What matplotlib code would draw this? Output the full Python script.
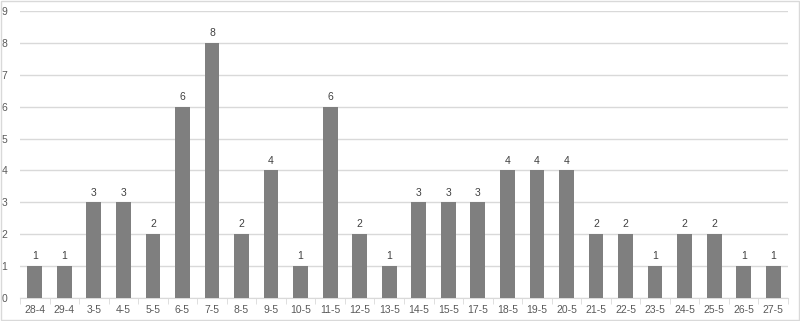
import matplotlib
matplotlib.use("Agg")
import matplotlib.pyplot as plt
from matplotlib.patches import Rectangle

plt.rcParams["font.family"] = ["Liberation Sans", "DejaVu Sans"]

categories = ["28-4", "29-4", "3-5", "4-5", "5-5", "6-5", "7-5", "8-5", "9-5", "10-5",
              "11-5", "12-5", "13-5", "14-5", "15-5", "17-5", "18-5", "19-5", "20-5",
              "21-5", "22-5", "23-5", "24-5", "25-5", "26-5", "27-5"]
values = [1, 1, 3, 3, 2, 6, 8, 2, 4, 1, 6, 2, 1, 3, 3, 3, 4, 4, 4, 2, 2, 1, 2, 2, 1, 1]
yticks = list(range(0, 10))

fig = plt.figure(figsize=(8, 3.21), dpi=100)
ax = fig.add_axes([0.025, 0.0717, 0.96, 0.894])
x = list(range(len(categories)))
bars = ax.bar(x, values, width=0.5, color="#7f7f7f", zorder=3)
ax.set_xlim(-0.5, len(categories) - 0.5)
ax.set_ylim(0, 9)
ax.set_yticks(yticks)
ax.set_xticks(x)
ax.set_xticklabels(categories)
for b, v in zip(bars, values):
    ax.text(b.get_x() + b.get_width() / 2, v + 0.15, str(v), ha="center", va="bottom",
            fontsize=7.5, color="#404040")
ax.grid(axis="y", color="#d9d9d9", linewidth=1, zorder=0)
for s in ["top", "right", "left"]:
    ax.spines[s].set_visible(False)
ax.spines["bottom"].set_color("#d9d9d9")
ax.tick_params(axis="y", length=0, labelsize=7.5, labelcolor="#595959", pad=9)
ax.tick_params(axis="x", length=0, labelsize=7.5, labelcolor="#595959", pad=5)
ax.set_xticks([i - 0.5 for i in range(len(categories) + 1)], minor=True)
ax.tick_params(axis="x", which="minor", length=4, color="#d9d9d9")
fig.patches.append(Rectangle((0.001, 0.002), 0.998, 0.996, transform=fig.transFigure,
                             fill=False, edgecolor="#d9d9d9", linewidth=1))
fig.savefig("out.png", dpi=100)
